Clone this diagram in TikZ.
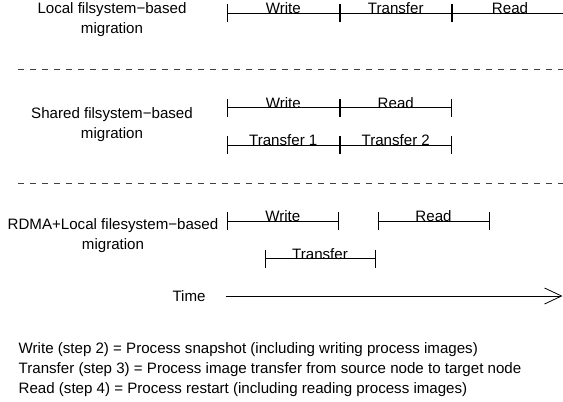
\documentclass[tikz,border=0pt]{standalone}
\usepackage{fontspec}
\setmainfont{Liberation Sans}
\usetikzlibrary{arrows.meta,calc}
\begin{document}
\begin{tikzpicture}[x=1pt,y=-1pt,
  every node/.style={inner sep=0pt, font=\fontsize{15.1}{20}\selectfont},
  phase/.style={line width=0.8pt, {Bar[width=18pt,line width=0.9pt]}-{Bar[width=18pt,line width=0.9pt]}},
  openphase/.style={line width=0.8pt, {Bar[width=18pt,line width=0.9pt]}-},
  phaselabel/.style={anchor=base},
  method/.style={align=center, anchor=base},
  separator/.style={dashed, dash pattern=on 6pt off 6pt, line width=0.6pt, black!75},
  timeaxis/.style={line width=0.8pt, -{Straight Barb[length=17pt,width=16pt,line width=0.8pt]}},
  legend/.style={anchor=base west}]
\useasboundingbox (0,0) rectangle (563,402);

% --- local filesystem: write, transfer, read in sequence
\coordinate (l0) at (227,13);
\coordinate (l1) at (339.5,13);
\coordinate (l2) at (452,13);
\coordinate (l3) at (563,13);
\draw[phase] (l0) -- (l1);
\draw[phase] (l1) -- (l2);
\draw[openphase] (l2) -- (l3);
\node[phaselabel] (lw) at ($(l0)!0.5!(l1)+(0,0.5)$) {Write};
\node[phaselabel] (lt) at ($(l1)!0.5!(l2)+(0,0.5)$) {Transfer};
\node[phaselabel] (lr) at (510,13.5) {Read};
% method labels: the base anchor sits on the second line
\node[method] (lm) at (112,33) {Local filsystem−based\\migration};

\coordinate (d1a) at (18,69.5);
\coordinate (d1b) at (563,69.5);
\draw[separator] (d1a) -- (d1b);

% --- shared filesystem: transfer runs alongside write and read
\coordinate (s0) at (227,107.5);
\coordinate (s1) at (339.5,107.5);
\coordinate (s2) at (452,107.5);
\draw[phase] (s0) -- (s1);
\draw[phase] (s1) -- (s2);
\node[phaselabel] (sw) at ($(s0)!0.5!(s1)+(0,0.5)$) {Write};
\node[phaselabel] (sr) at ($(s1)!0.5!(s2)+(0,0.5)$) {Read};
\coordinate (t0) at (227,145);
\coordinate (t1) at (339.5,145);
\coordinate (t2) at (452,145);
\draw[phase] (t0) -- (t1);
\draw[phase] (t1) -- (t2);
\node[phaselabel] (st1) at ($(t0)!0.5!(t1)+(0,0.5)$) {Transfer 1};
\node[phaselabel] (st2) at ($(t1)!0.5!(t2)+(0,0.5)$) {Transfer 2};
\node[method] (sm) at (112,138) {Shared filsystem−based\\migration};

\coordinate (d2a) at (18,183.5);
\coordinate (d2b) at (563,183.5);
\draw[separator] (d2a) -- (d2b);

% --- RDMA + local filesystem: transfer overlaps write and read
\coordinate (r0) at (227,221);
\coordinate (r1) at (338.5,221);
\coordinate (r2) at (377.5,221);
\coordinate (r3) at (489.5,221);
\draw[phase] (r0) -- (r1);
\draw[phase] (r2) -- (r3);
\node[phaselabel] (rw) at ($(r0)!0.5!(r1)+(0,0.5)$) {Write};
\node[phaselabel] (rr) at ($(r2)!0.5!(r3)+(0,0.5)$) {Read};
\coordinate (u0) at (264.5,258.5);
\coordinate (u1) at (375.5,258.5);
\draw[phase] (u0) -- (u1);
\node[phaselabel] (rt) at ($(u0)!0.5!(u1)+(0,0.5)$) {Transfer};
\node[method] (rm) at (113,249.5) {RDMA+Local filesystem−based\\migration};

% --- time axis
\node[anchor=base] (time) at (189,301) {Time};
\coordinate (a0) at (226,296);
\coordinate (a1) at (562.5,296);
\draw[timeaxis] (a0) -- (a1);

% --- legend
\node[legend] (k1) at (18.5,353.5) {Write (step 2) = Process snapshot (including writing process images)};
\node[legend] (k2) at (18.5,373.5) {Transfer (step 3) = Process image transfer from source node to target node};
\node[legend] (k3) at (18.5,393.5) {Read (step 4) = Process restart (including reading process images)};
\end{tikzpicture}
\end{document}
